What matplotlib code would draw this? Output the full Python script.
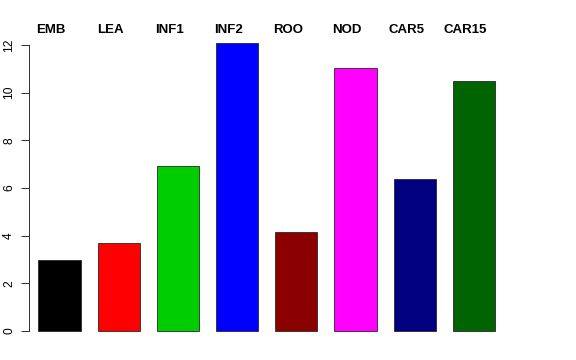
import matplotlib
matplotlib.use("Agg")
import matplotlib.pyplot as plt
import matplotlib.transforms as mtransforms

categories = ["EMB", "LEA", "INF1", "INF2", "ROO", "NOD", "CAR5", "CAR15"]
values = [2.98, 3.70, 6.94, 12.08, 4.14, 11.02, 6.37, 10.50]
colors = ["#000000", "#FF0000", "#00CD00", "#0000FF", "#8B0000", "#FF00FF", "#000080", "#006400"]
yticks = [0, 2, 4, 6, 8, 10, 12]

plt.rcParams['font.family'] = ['Liberation Sans', 'DejaVu Sans']

W, H = 576, 360
fig = plt.figure(figsize=(W / 72, H / 72), dpi=72)
left_px, right_px = 28.7, 504.7
top_px, bottom_px = 31.6, 342.5
ax = fig.add_axes([left_px / W, (H - bottom_px) / H, (right_px - left_px) / W, (bottom_px - top_px) / H])

x = list(range(len(categories)))
ax.bar(x, values, width=0.71, color=colors, edgecolor="#222222", linewidth=0.8)

ymax = max(values)
pad = 0.04 * ymax
ax.set_ylim(-pad, ymax + pad)
ax.set_xlim(-0.52, 7.52)

for s in ["top", "right", "bottom"]:
    ax.spines[s].set_visible(False)
ax.spines["left"].set_bounds(0, 12)
ax.spines["left"].set_color("#333333")
ax.spines["left"].set_linewidth(1)
ax.set_xticks([])
ax.set_yticks(yticks)
ax.set_yticklabels([str(t) for t in yticks], rotation=90, va="center", fontsize=12)
ax.tick_params(axis="y", length=8, width=1, color="#333333", pad=5.5)

trans = mtransforms.blended_transform_factory(ax.transData, ax.transAxes)
for i, lab in enumerate(categories):
    ax.text(i - 0.14, 1.0 + (31.6 - 29.5) / (bottom_px - top_px), lab, transform=trans,
            ha="center", va="center", fontsize=13.2, fontweight="bold", clip_on=False)

fig.savefig("out.png", dpi=72)
